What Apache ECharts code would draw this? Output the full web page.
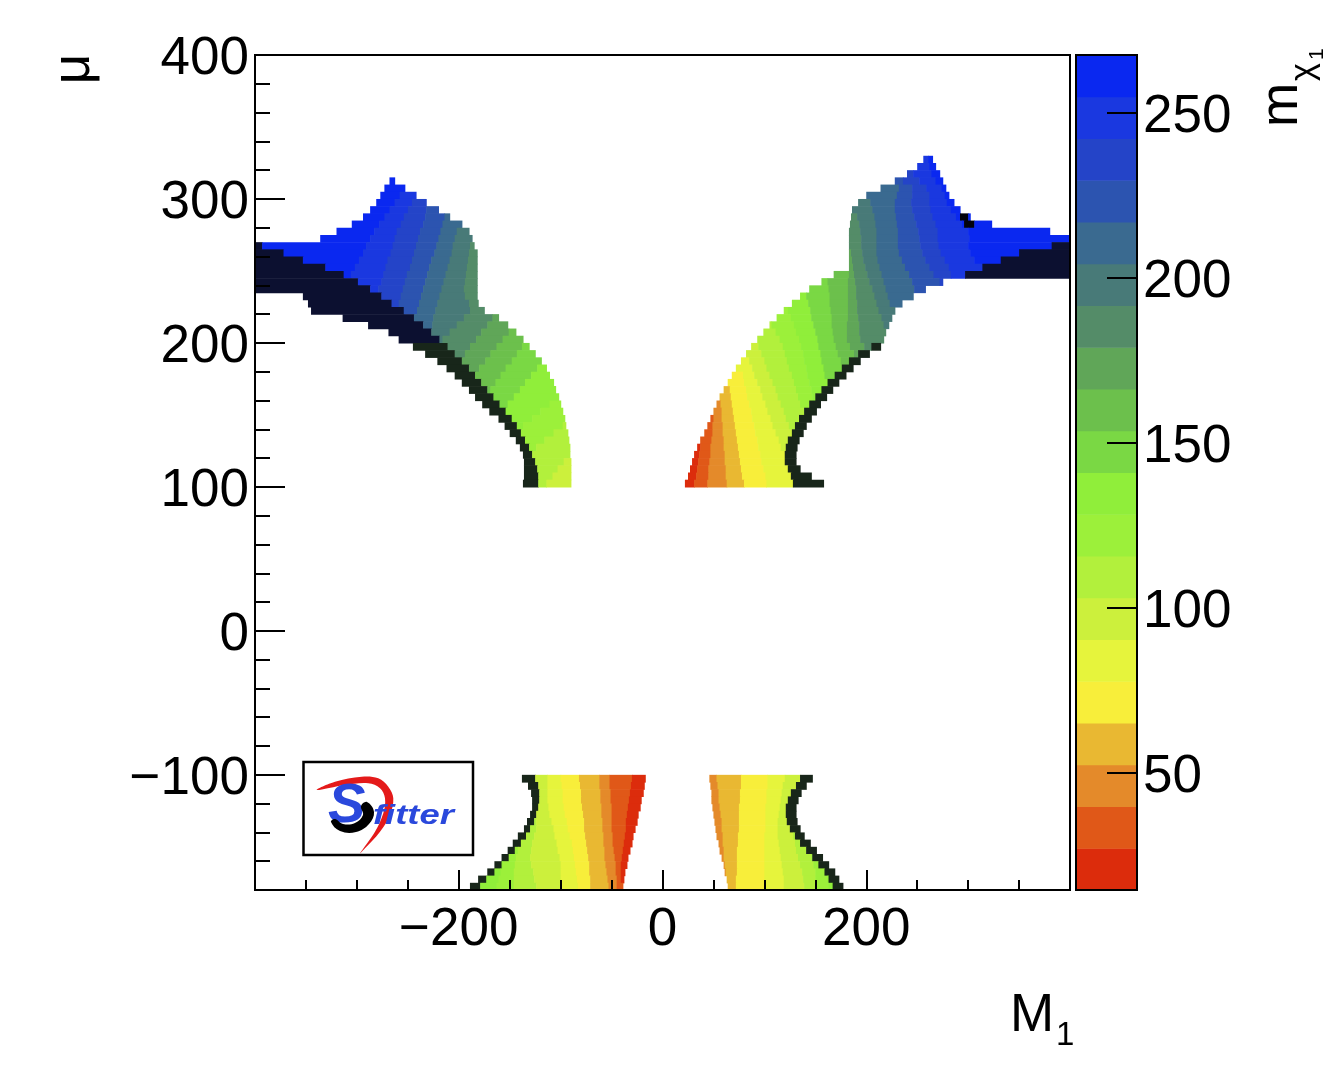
<!DOCTYPE html>
<html><head><meta charset="utf-8">
<script src="https://cdn.jsdelivr.net/npm/echarts@6/dist/echarts.min.js"></script>
<style>html,body{margin:0;padding:0;background:#fff}#c{width:1337px;height:1087px}</style>
</head><body><div id="c"></div>
<script>
// ---- colour scale (20 contour bands of m_chi1) ----
const palette = ['#dc2c0c','#e05818','#e48a2a','#e9b832','#f8ee3a','#e6f43c','#ccf03c','#b2f03c','#9cf03a','#90ee3a',
                 '#7ad844','#6cc04c','#60a658','#548c68','#487a78','#3a6a90','#2c54b0','#2444c8','#1a38e0','#0a28f0'];
const darkCodes = {n: 20, d: 21, k: 22};
const darkColors = ['#0c1030', '#18261a', '#02020c'];
const levels = [14.5, 27.15, 39.8, 52.45, 65.1, 77.75, 90.4, 103.05, 115.7, 128.35, 141, 153.65,
                166.3, 178.95, 191.6, 204.25, 216.9, 229.55, 242.2, 254.85, 267.5];
const xTickLabels = [-200, 0, 200];
const yTickLabels = [-100, 0, 100, 200, 300, 400];
const zTickLabels = [50, 100, 150, 200, 250];

// ---- map rows: "mu|x0 band x1 band ... xEnd" (each row is 5 units of mu tall) ----
const ulRows = [
"312.5|-268 19 -263",
"307.5|-273 19 -253",
"302.5|-277 19 -258 18 -242",
"297.5|-281 19 -263 18 -246 17 -232",
"292.5|-287 19 -268 18 -250 17 -232 16 -220",
"287.5|-294 19 -273 18 -254 17 -233 16 -214 15 -209",
"282.5|-305 19 -278 18 -257 17 -235 16 -216 15 -197",
"277.5|-320 19 -283 18 -261 17 -238 16 -218 15 -202 14 -190",
"272.5|-336 19 -287 18 -263 17 -240 16 -220 15 -204 14 -187",
"267.5|-400 n -393 19 -291 18 -265 17 -242 16 -222 15 -206 14 -189 13 -185",
"262.5|-400 n -372 19 -294 18 -267 17 -244 16 -224 15 -207 14 -190 13 -182",
"257.5|-400 n -353 19 -298 18 -270 17 -246 16 -227 15 -209 14 -191 13 -182",
"252.5|-400 n -331 19 -302 18 -272 17 -248 16 -229 15 -211 14 -192 13 -182",
"247.5|-400 n -313 19 -306 18 -274 17 -251 16 -231 15 -213 14 -193 13 -182",
"242.5|-400 n -299 18 -276 17 -253 16 -233 15 -215 14 -194 13 -182",
"237.5|-400 n -287 18 -279 17 -255 16 -235 15 -217 14 -195 13 -182",
"232.5|-353 n -276 17 -257 16 -237 15 -219 14 -194 13 -182",
"227.5|-348 n -266 17 -259 16 -239 15 -221 14 -190 13 -181",
"222.5|-345 n -254 16 -241 15 -223 14 -189 13 -175",
"217.5|-314 n -244 15 -225 14 -195 13 -167 12 -161",
"212.5|-289 n -235 15 -226 14 -202 13 -172 12 -152",
"207.5|-269 n -227 14 -209 13 -178 12 -151 11 -144",
"202.5|-259 n -219 14 -216 13 -183 12 -157 11 -137",
"197.5|-245 d -211 13 -189 12 -163 11 -138 10 -131",
"192.5|-233 d -204 13 -194 12 -169 11 -143 10 -125",
"187.5|-221 d -197 12 -174 11 -148 10 -119",
"182.5|-212 d -190 12 -180 11 -154 10 -123 9 -114",
"177.5|-204 d -184 11 -159 10 -129 9 -111",
"172.5|-197 d -178 11 -164 10 -135 9 -107",
"167.5|-190 d -172 11 -169 10 -140 9 -105",
"162.5|-184 d -166 10 -146 9 -102",
"157.5|-177 d -160 10 -152 9 -111 8 -100",
"152.5|-170 d -154 9 -120 8 -98",
"147.5|-161 d -148 9 -128 8 -96",
"142.5|-155 d -143 9 -137 8 -98 7 -95",
"137.5|-150 d -139 8 -107 7 -93",
"132.5|-144 d -135 8 -116 7 -92",
"127.5|-140 d -131 8 -124 7 -91",
"122.5|-137 d -128 7 -91",
"117.5|-136 d -125 7 -97 6 -90",
"112.5|-136 d -123 7 -103 6 -90",
"107.5|-136 d -122 7 -108 6 -90",
"102.5|-137 d -122 7 -114 6 -90"
];
const urRows = [
"327.5|256 18 261 19 265",
"322.5|250 18 262 19 268",
"317.5|240 17 246 18 264 19 272",
"312.5|228 16 236 17 252 18 268 19 275",
"307.5|214 15 232 16 245 17 259 18 274 19 278",
"302.5|200 15 230 16 245 17 262 18 277 19 281",
"297.5|192 14 204 15 228 16 244 17 262 18 279 19 286",
"292.5|186 14 206 15 228 16 245 17 263 18 283 19 292",
"287.5|185 13 191 14 208 15 229 16 247 17 265 18 288 19 292 k 300 19 302",
"282.5|184 13 193 14 209 15 230 16 249 17 268 18 294 19 296 k 306 19 323",
"277.5|183 13 194 14 210 15 231 16 251 17 270 18 300 19 380",
"272.5|183 13 195 14 210 15 231 16 252 17 270 18 301 19 400",
"267.5|183 13 195 14 210 15 231 16 253 17 271 18 300 19 382 n 400",
"262.5|183 12 185 13 196 14 210 15 232 16 255 17 273 18 302 19 350 n 400",
"257.5|183 12 186 13 197 14 211 15 235 16 258 17 277 18 306 19 332 n 400",
"252.5|183 12 187 13 199 14 213 15 238 16 262 17 281 18 314 n 400",
"247.5|168 11 183 12 188 13 201 14 215 15 242 16 266 17 283 18 297 n 400",
"242.5|156 10 162 11 182 12 189 13 203 14 217 15 245 16 272 17 275",
"237.5|144 10 163 11 182 12 190 13 206 14 219 15 247 16 258",
"232.5|135 9 141 10 164 11 182 12 190 13 208 14 221 15 246",
"227.5|127 9 143 10 164 11 182 12 191 13 210 14 223 15 235",
"222.5|119 8 123 9 145 10 165 11 182 12 191 13 212 14 228",
"217.5|112 8 126 9 146 10 166 11 182 12 192 13 215 14 225",
"212.5|105 7 107 8 129 9 148 10 166 11 181 12 193 13 217 14 222",
"207.5|99 7 111 8 131 9 150 10 167 11 181 12 193 13 219",
"202.5|93 7 115 8 134 9 152 10 168 11 181 12 194 13 217",
"197.5|87 6 94 7 118 8 136 9 153 10 170 11 184 12 198 13 205 d 214",
"192.5|82 6 97 7 120 8 138 9 155 10 172 11 188 12 192 d 203",
"187.5|77 5 85 6 100 7 122 8 139 9 156 10 175 11 183 d 194",
"182.5|72 5 88 6 102 7 124 8 141 9 158 10 176 d 187",
"177.5|68 4 79 5 90 6 105 7 127 8 142 9 159 10 169 d 180",
"172.5|64 4 80 5 93 6 108 7 129 8 144 9 162 d 173",
"167.5|60 3 66 4 82 5 96 6 111 7 131 8 146 9 156 d 167",
"162.5|56 3 67 4 83 5 98 6 113 7 133 8 147 9 150 d 161",
"157.5|53 2 57 3 68 4 85 5 101 6 116 7 135 8 144 d 155",
"152.5|50 2 58 3 69 4 87 5 103 6 119 7 139 d 151",
"147.5|47 1 50 2 58 3 70 4 88 5 106 6 121 7 134 d 146",
"142.5|44 1 49 2 59 3 71 4 90 5 108 6 124 7 130 d 141",
"137.5|41 1 49 2 59 3 72 4 91 5 111 6 127 d 138",
"132.5|37 1 48 2 60 3 73 4 93 5 114 6 123 d 134",
"127.5|34 0 37 1 47 2 60 3 74 4 94 5 116 6 121 d 132",
"122.5|31 0 36 1 47 2 61 3 75 4 96 5 120 d 131",
"117.5|29 0 35 1 46 2 61 3 76 4 97 5 120 d 131",
"112.5|27 0 34 1 45 2 62 3 77 4 99 5 123 d 135",
"107.5|25 0 33 1 45 2 62 3 78 4 101 5 126 d 146",
"102.5|22 0 31 1 44 2 63 3 80 4 102 5 128 d 158"
];
const blRows = [
"-102.5|-138 d -125 6 -113 5 -100 4 -82 3 -62 2 -52 1 -30 0 -17",
"-107.5|-132 d -122 6 -113 5 -99 4 -81 3 -62 2 -52 1 -31 0 -18",
"-112.5|-129 d -121 6 -113 5 -98 4 -80 3 -61 2 -51 1 -32 0 -19",
"-117.5|-128 d -121 6 -113 5 -98 4 -80 3 -61 2 -51 1 -33 0 -21",
"-122.5|-128 d -122 6 -112 5 -97 4 -79 3 -60 2 -50 1 -34 0 -22",
"-127.5|-130 d -124 6 -111 5 -96 4 -78 3 -60 2 -50 1 -35 0 -24",
"-132.5|-133 d -126 7 -124 6 -109 5 -94 4 -77 3 -59 2 -50 1 -36 0 -25",
"-137.5|-136 d -130 7 -124 6 -107 5 -93 4 -77 3 -59 2 -50 1 -36 0 -27",
"-142.5|-142 d -134 7 -126 6 -106 5 -91 4 -76 3 -58 2 -49 1 -37 0 -29",
"-147.5|-147 d -139 7 -128 6 -104 5 -89 4 -75 3 -58 2 -49 1 -38 0 -30",
"-152.5|-152 d -145 8 -142 7 -129 6 -103 5 -88 4 -74 3 -57 2 -48 1 -39 0 -32",
"-157.5|-158 d -151 8 -144 7 -130 6 -101 5 -87 4 -73 3 -57 2 -47 1 -40 0 -34",
"-162.5|-165 d -158 9 -157 8 -145 7 -129 6 -100 5 -86 4 -72 3 -56 2 -46 1 -41 0 -35",
"-167.5|-172 d -165 9 -159 8 -146 7 -127 6 -100 5 -85 4 -72 3 -55 2 -46 1 -41 0 -37",
"-172.5|-181 d -173 9 -161 8 -146 7 -126 6 -100 5 -84 4 -71 3 -54 2 -45 1 -41 0 -38",
"-177.5|-189 d -179 9 -163 8 -146 7 -124 6 -100 5 -83 4 -71 3 -53 2 -45 1 -39"
];
const brRows = [
"-102.5|46 2 53 3 77 4 103 5 120 6 135 d 147",
"-107.5|47 2 54 3 77 4 103 5 118 6 131 d 141",
"-112.5|48 2 55 3 76 4 102 5 117 6 126 d 136",
"-117.5|48 2 55 3 76 4 102 5 116 6 123 d 133",
"-122.5|49 2 56 3 75 4 101 5 115 6 121 d 131",
"-127.5|50 2 57 3 75 4 101 5 114 6 121 d 131",
"-132.5|51 2 58 3 75 4 101 5 113 6 122 d 132",
"-137.5|52 2 58 3 75 4 101 5 113 6 125 d 135",
"-142.5|53 2 59 3 74 4 100 5 113 6 128 7 130 d 139",
"-147.5|55 2 59 3 74 4 100 5 114 6 130 7 135 d 145",
"-152.5|56 2 60 3 73 4 100 5 115 6 131 7 141 d 151",
"-157.5|58 2 60 3 73 4 100 5 116 6 133 7 146 8 147 d 157",
"-162.5|60 2 61 3 73 4 100 5 117 6 135 7 148 8 153 d 163",
"-167.5|61 2 62 3 73 4 100 5 118 6 137 7 150 8 159 d 169",
"-172.5|63 3 72 4 100 5 119 6 138 7 150 8 162 9 163 d 173",
"-177.5|64 3 72 4 100 5 119 6 139 7 150 8 163 9 167 d 177"
];

const ROW_HALF = 2.5;
const COLORS = palette.concat(darkColors);
function decode(rows) {
  const out = [];
  rows.forEach(r => {
    const parts = r.split('|');
    const mu = +parts[0];
    const t = parts[1].trim().split(/\s+/);
    for (let i = 0; i + 2 < t.length; i += 2) {
      const code = t[i + 1];
      const ci = (code in darkCodes) ? darkCodes[code] : +code;
      out.push([+t[i], +t[i + 2], mu - ROW_HALF, mu + ROW_HALF, ci]);
    }
  });
  return out;
}
const mapData = decode(ulRows).concat(decode(urRows), decode(blRows), decode(brRows));
const barData = [];
for (let i = 0; i < levels.length - 1; i++) barData.push([levels[i], levels[i + 1], i]);

const FONT = 'Liberation Sans, Arial, Helvetica, sans-serif';
const minus = v => String(v).replace('-', '\u2212');
const lbl = (extra) => Object.assign({color: '#000', fontSize: 53, fontFamily: FONT, formatter: minus}, extra);
// labels shifted slightly below the tick, as in the original (rich token with top padding)
const lowLbl = (extra) => Object.assign({
  color: '#000', fontSize: 53, fontFamily: FONT,
  formatter: v => '{a|' + minus(v) + '}',
  rich: {a: {color: '#000', fontSize: 53, fontFamily: FONT, padding: [9, 0, 0, 0]}}
}, extra);
const blackLine = {color: '#000', width: 2};

const chart = echarts.init(document.getElementById('c'), null, {renderer: 'canvas'});
chart.setOption({
  animation: false,
  backgroundColor: '#fff',
  grid: [
    {left: 255, top: 55, width: 815, height: 835, outerBoundsMode: 'none'},
    {left: 1076, top: 55, width: 61, height: 835, outerBoundsMode: 'none'}
  ],
  xAxis: [
    {gridIndex: 0, type: 'value', min: -400, max: 400, interval: 200, position: 'bottom', z: 5,
     axisLine: {show: true, onZero: false, lineStyle: blackLine},
     axisTick: {show: true, inside: true, length: 20, lineStyle: blackLine},
     minorTick: {show: true, splitNumber: 4, length: 10, lineStyle: blackLine},
     axisLabel: lbl({showMinLabel: false, showMaxLabel: false, margin: 14}),
     splitLine: {show: false}, minorSplitLine: {show: false}},
    {gridIndex: 1, type: 'value', min: 0, max: 1, show: false}
  ],
  yAxis: [
    {gridIndex: 0, type: 'value', min: -180, max: 400, position: 'left', z: 5,
     axisLine: {show: true, onZero: false, lineStyle: blackLine},
     axisTick: {show: true, inside: true, length: 30, lineStyle: blackLine, customValues: yTickLabels},
     axisLabel: lowLbl({margin: 6, customValues: yTickLabels}),
     splitLine: {show: false}},
    {gridIndex: 0, type: 'value', min: -180, max: 400, interval: 20, position: 'left', z: 5,
     axisLine: {show: false, onZero: false},
     axisTick: {show: true, inside: true, length: 15, lineStyle: blackLine},
     axisLabel: {show: false}, splitLine: {show: false}},
    {gridIndex: 1, type: 'value', min: 14.5, max: 267.5, position: 'right', z: 5,
     axisLine: {show: true, onZero: false, lineStyle: blackLine},
     axisTick: {show: true, inside: true, length: 30, lineStyle: blackLine, customValues: zTickLabels},
     axisLabel: lowLbl({margin: 6, customValues: zTickLabels}),
     splitLine: {show: false}}
  ],
  series: [
    {type: 'custom', xAxisIndex: 0, yAxisIndex: 0, silent: true, z: 2,
     encode: {x: [0, 1], y: [2, 3]},
     data: mapData,
     renderItem: function (params, api) {
       const p0 = api.coord([api.value(0), api.value(3)]);
       const p1 = api.coord([api.value(1), api.value(2)]);
       return {type: 'rect', shape: {x: p0[0], y: p0[1], width: p1[0] - p0[0] + 0.6, height: p1[1] - p0[1] + 0.6},
               style: {fill: COLORS[api.value(4)]}};
     }},
    {type: 'custom', xAxisIndex: 1, yAxisIndex: 2, silent: true, z: 2,
     encode: {y: [0, 1]},
     data: barData,
     renderItem: function (params, api) {
       const p0 = api.coord([0, api.value(1)]);
       const p1 = api.coord([1, api.value(0)]);
       return {type: 'rect', shape: {x: p0[0], y: p0[1], width: p1[0] - p0[0], height: p1[1] - p0[1] + 0.6},
               style: {fill: palette[api.value(2)]}};
     }}
  ],
  graphic: [
    {type: 'rect', z: 100, shape: {x: 255, y: 55, width: 815, height: 835}, style: {fill: 'transparent', stroke: '#000', lineWidth: 2}},
    {type: 'rect', z: 100, shape: {x: 1076, y: 55, width: 61, height: 835}, style: {fill: 'transparent', stroke: '#000', lineWidth: 2}},
    // axis titles
    {type: 'text', z: 100, x: 74, y: 69, rotation: Math.PI / 2,
     style: {text: 'μ', fontSize: 53, fontFamily: FONT, fill: '#000', align: 'center', verticalAlign: 'middle'}},
    {type: 'text', z: 100, x: 1010, y: 1043, style: {text: 'M', fontSize: 53, fontFamily: FONT, fill: '#000', align: 'left', verticalAlign: 'bottom'}},
    {type: 'text', z: 100, x: 1056, y: 1052, style: {text: '1', fontSize: 33, fontFamily: FONT, fill: '#000', align: 'left', verticalAlign: 'bottom'}},
    {type: 'group', z: 100, x: 1309, y: 127, rotation: Math.PI / 2, children: [
      {type: 'text', z: 100, x: 0, y: 0, style: {text: 'm', fontSize: 53, fontFamily: FONT, fill: '#000', align: 'left', verticalAlign: 'bottom'}},
      {type: 'text', z: 100, x: 46, y: 12, style: {text: 'χ', fontSize: 34, fontFamily: FONT, fill: '#000', align: 'left', verticalAlign: 'bottom'}},
      {type: 'text', z: 100, x: 67, y: 19, style: {text: '1', fontSize: 21, fontFamily: FONT, fill: '#000', align: 'left', verticalAlign: 'bottom'}}
    ]},
    // SFitter logo
    {type: 'rect', z: 100, shape: {x: 303.5, y: 762, width: 169.5, height: 93}, style: {fill: '#fff', stroke: '#000', lineWidth: 2.5}},
    {type: 'polygon', z: 101, shape: {smooth: 0.35, points: [
      [316.7, 790], [335, 781.7], [361.7, 776.7], [378.3, 778.3], [388.3, 786.7], [393.3, 798.3], [390, 815],
      [380, 831.7], [365, 848.3], [360, 853.3], [375, 831.7], [383.3, 813.3], [385, 798.3], [380, 788.3],
      [368.3, 783.3], [345, 785]]}, style: {fill: '#e41a1a'}},
    {type: 'text', z: 102, x: 328, y: 779, style: {text: 'S', fontSize: 56, fontStyle: 'italic', fontWeight: 'bold', fontFamily: FONT, fill: '#2a48dc', align: 'left', verticalAlign: 'top'}},
    {type: 'polygon', z: 103, shape: {smooth: 0.4, points: [
      [331, 822], [340, 831], [356, 832], [369, 824], [374, 812], [367, 802], [361, 806], [363, 815], [355, 823], [343, 824], [335, 819]]},
     style: {fill: '#000'}},
    {type: 'text', z: 102, x: 373, y: 802, scaleX: 1.3, style: {text: 'fitter', fontSize: 28, fontStyle: 'italic', fontWeight: 'bold', fontFamily: FONT, fill: '#2a48dc', align: 'left', verticalAlign: 'top'}}
  ]
});
</script>
</body></html>
